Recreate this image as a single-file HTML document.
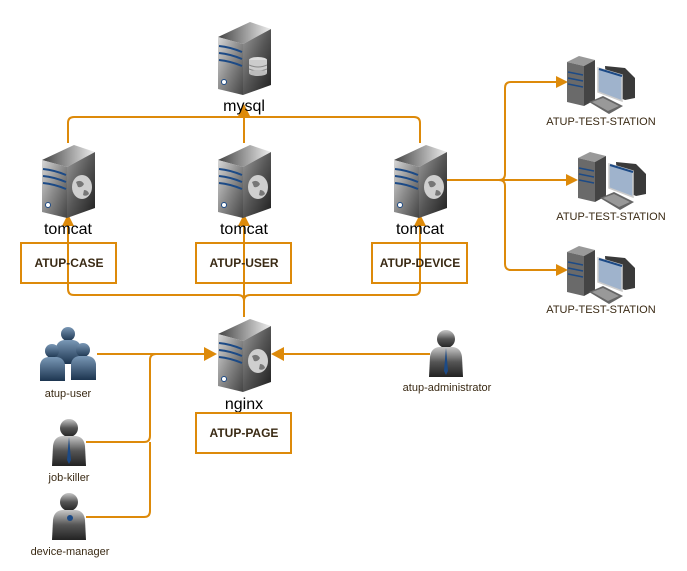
<!DOCTYPE html>
<html><head><meta charset="utf-8"><style>
html,body{margin:0;padding:0;background:#fff;}
svg{display:block;}
text{font-family:"Liberation Sans",Arial,sans-serif;}
</style></head><body>
<svg width="687" height="571" viewBox="0 0 687 571" xmlns="http://www.w3.org/2000/svg">
<defs>
<linearGradient id="gf" x1="0" y1="0" x2="1" y2="1"><stop offset="0" stop-color="#d8d8d8"/><stop offset="0.5" stop-color="#8a8a8a"/><stop offset="1" stop-color="#444"/></linearGradient>
<linearGradient id="gs" x1="0" y1="0" x2="1" y2="1"><stop offset="0" stop-color="#9a9a9a"/><stop offset="0.5" stop-color="#555"/><stop offset="1" stop-color="#1e1e1e"/></linearGradient>
<linearGradient id="gt" x1="0" y1="0" x2="1" y2="0"><stop offset="0" stop-color="#444"/><stop offset="1" stop-color="#eee"/></linearGradient>
<linearGradient id="gp" x1="0" y1="0" x2="0" y2="1"><stop offset="0" stop-color="#c8c8c8"/><stop offset="0.5" stop-color="#555"/><stop offset="1" stop-color="#222"/></linearGradient>
<linearGradient id="gb" x1="0" y1="0" x2="0" y2="1"><stop offset="0" stop-color="#7a98b6"/><stop offset="1" stop-color="#1c3550"/></linearGradient>
<g id="srv">
  <polygon points="2,18 34,3 55,10 27,25" fill="url(#gt)"/>
  <polygon points="27,25 55,10 55,66 27,76" fill="url(#gs)"/>
  <polygon points="2,18 27,25 27,76 2,70" fill="url(#gf)"/>
  <path d="M3,27 Q14,28 26,33 M3,34 Q14,35 26,40 M3,41 Q14,42 26,47" stroke="#1c4a86" stroke-width="2" fill="none"/>
  <circle cx="8" cy="63" r="2.5" fill="#fff" stroke="#1c4a86" stroke-width="1"/>
</g>
<g id="globe"><ellipse cx="42" cy="45" rx="10" ry="12" fill="#cfcfcf"/><path d="M36,40 q5,-3 8,2 q-2,4 -6,3 z M44,48 q4,0 5,4 q-3,3 -6,1 z" fill="#777"/></g>
<g id="person">
  <circle cx="17" cy="10" r="9" fill="url(#gp)"/>
  <path d="M0,48 L1,28 Q2,19 10,18 L24,18 Q32,19 33,28 L34,48 Z" fill="url(#gp)"/>
</g>
<g id="bperson">
  <circle cx="12" cy="8" r="7" fill="url(#gb)"/>
  <path d="M0,38 L0,22 Q1,15 8,14 L17,14 Q24,15 25,22 L25,38 Z" fill="url(#gb)"/>
</g>
<g id="station">
  <polygon points="0,8 12,2 28,6 17,12" fill="#999"/>
  <polygon points="17,12 28,6 28,46 17,52" fill="#444"/>
  <polygon points="0,8 17,12 17,52 0,48" fill="#6a6a6a"/>
  <path d="M1,18 L16,21 M1,24 L16,27 M1,30 L16,33" stroke="#1c4a86" stroke-width="1.5"/>
  <polygon points="38,12 58,14 68,24 68,44 58,46 40,38" fill="#3a3a3a"/>
  <polygon points="31,14 55,21 55,47 31,38" fill="#9fb3cc" stroke="#ccc" stroke-width="1.5"/>
  <path d="M32,15 L55,22" stroke="#1c4a86" stroke-width="2"/>
  <polygon points="22,48 36,42 56,52 42,60" fill="#666"/>
  <polygon points="25,48 36,44 52,52 41,57" fill="#999"/>
</g>
</defs>

<g fill="none" stroke="#dd8a0a" stroke-width="2">
  <path d="M68,143 V123 Q68,117 74,117 H414 Q420,117 420,123 V143"/>
  <path d="M244,143 V112"/>
  <path d="M68,222 V289 Q68,295 74,295 H238 Q244,295 244,301 M420,222 V289 Q420,295 414,295 H250 Q244,295 244,301 M244,317 V222"/>
  <path d="M447,180 H499 Q505,180 505,174 V88 Q505,82 511,82 H558 M447,180 H568 M499,180 Q505,180 505,186 V264 Q505,270 511,270 H558"/>
  <path d="M97,354 H205 M86,442 H144 Q150,442 150,436 V360 Q150,354 156,354 M86,517 H144 Q150,517 150,511 V442 M430,354 H282"/>
</g>
<g fill="#dd8a0a">
  <polygon points="244,104 238,116 250,116"/>
  <polygon points="68,214 62,226 74,226"/><polygon points="244,214 238,226 250,226"/><polygon points="420,214 414,226 426,226"/>
  <polygon points="568,82 556,76 556,88"/><polygon points="578,180 566,174 566,186"/><polygon points="568,270 556,264 556,276"/>
  <polygon points="217,354 204,347 204,361"/><polygon points="271,354 284,347 284,361"/>
</g>

<use href="#srv" x="216" y="19"/>
<g transform="translate(216,19)"><ellipse cx="42" cy="41" rx="9" ry="3" fill="#ddd"/><rect x="33" y="41" width="18" height="13" fill="#ccc"/><path d="M33,46 q9,4 18,0 M33,50 q9,4 18,0" stroke="#888" fill="none"/><ellipse cx="42" cy="54" rx="9" ry="3" fill="#bbb"/></g>
<use href="#srv" x="40" y="142"/><use href="#globe" x="40" y="142"/>
<use href="#srv" x="216" y="142"/><use href="#globe" x="216" y="142"/>
<use href="#srv" x="392" y="142"/><use href="#globe" x="392" y="142"/>
<use href="#srv" x="216" y="316"/><use href="#globe" x="216" y="316"/>

<g font-size="16" fill="#000" text-anchor="middle">
  <text x="244" y="111">mysql</text>
  <text x="68" y="234">tomcat</text><text x="244" y="234">tomcat</text><text x="420" y="234">tomcat</text>
  <text x="244" y="409">nginx</text>
</g>
<g fill="none" stroke="#dd8a0a" stroke-width="2">
  <rect x="21" y="243" width="95" height="40"/><rect x="196" y="243" width="95" height="40"/><rect x="372" y="243" width="95" height="40"/><rect x="196" y="413" width="95" height="40"/>
</g>
<g font-size="12" font-weight="bold" fill="#3a2a14" text-anchor="middle">
  <text x="69" y="267">ATUP-CASE</text><text x="244" y="267">ATUP-USER</text><text x="420" y="267">ATUP-DEVICE</text><text x="244" y="437">ATUP-PAGE</text>
</g>

<use href="#station" x="567" y="54"/><use href="#station" x="578" y="150"/><use href="#station" x="567" y="244"/>
<g font-size="11" fill="#3a2a14" text-anchor="middle">
  <text x="601" y="125">ATUP-TEST-STATION</text><text x="611" y="220">ATUP-TEST-STATION</text><text x="601" y="313">ATUP-TEST-STATION</text>
  <text x="68" y="397">atup-user</text><text x="69" y="481">job-killer</text><text x="70" y="555">device-manager</text><text x="447" y="391">atup-administrator</text>
</g>

<use href="#bperson" x="56" y="326"/>
<use href="#bperson" x="40" y="343"/>
<use href="#bperson" x="71" y="342"/>
<use href="#person" x="52" y="418"/>
<path d="M69,437 L67,460 L69,464 L71,460 Z" fill="#1c4a86"/>
<use href="#person" x="52" y="492"/>
<circle cx="70" cy="518" r="3" fill="#1c4a86"/>
<use href="#person" x="429" y="329"/>
<path d="M446,348 L444,371 L446,375 L448,371 Z" fill="#1c4a86"/>
</svg>
</body></html>
